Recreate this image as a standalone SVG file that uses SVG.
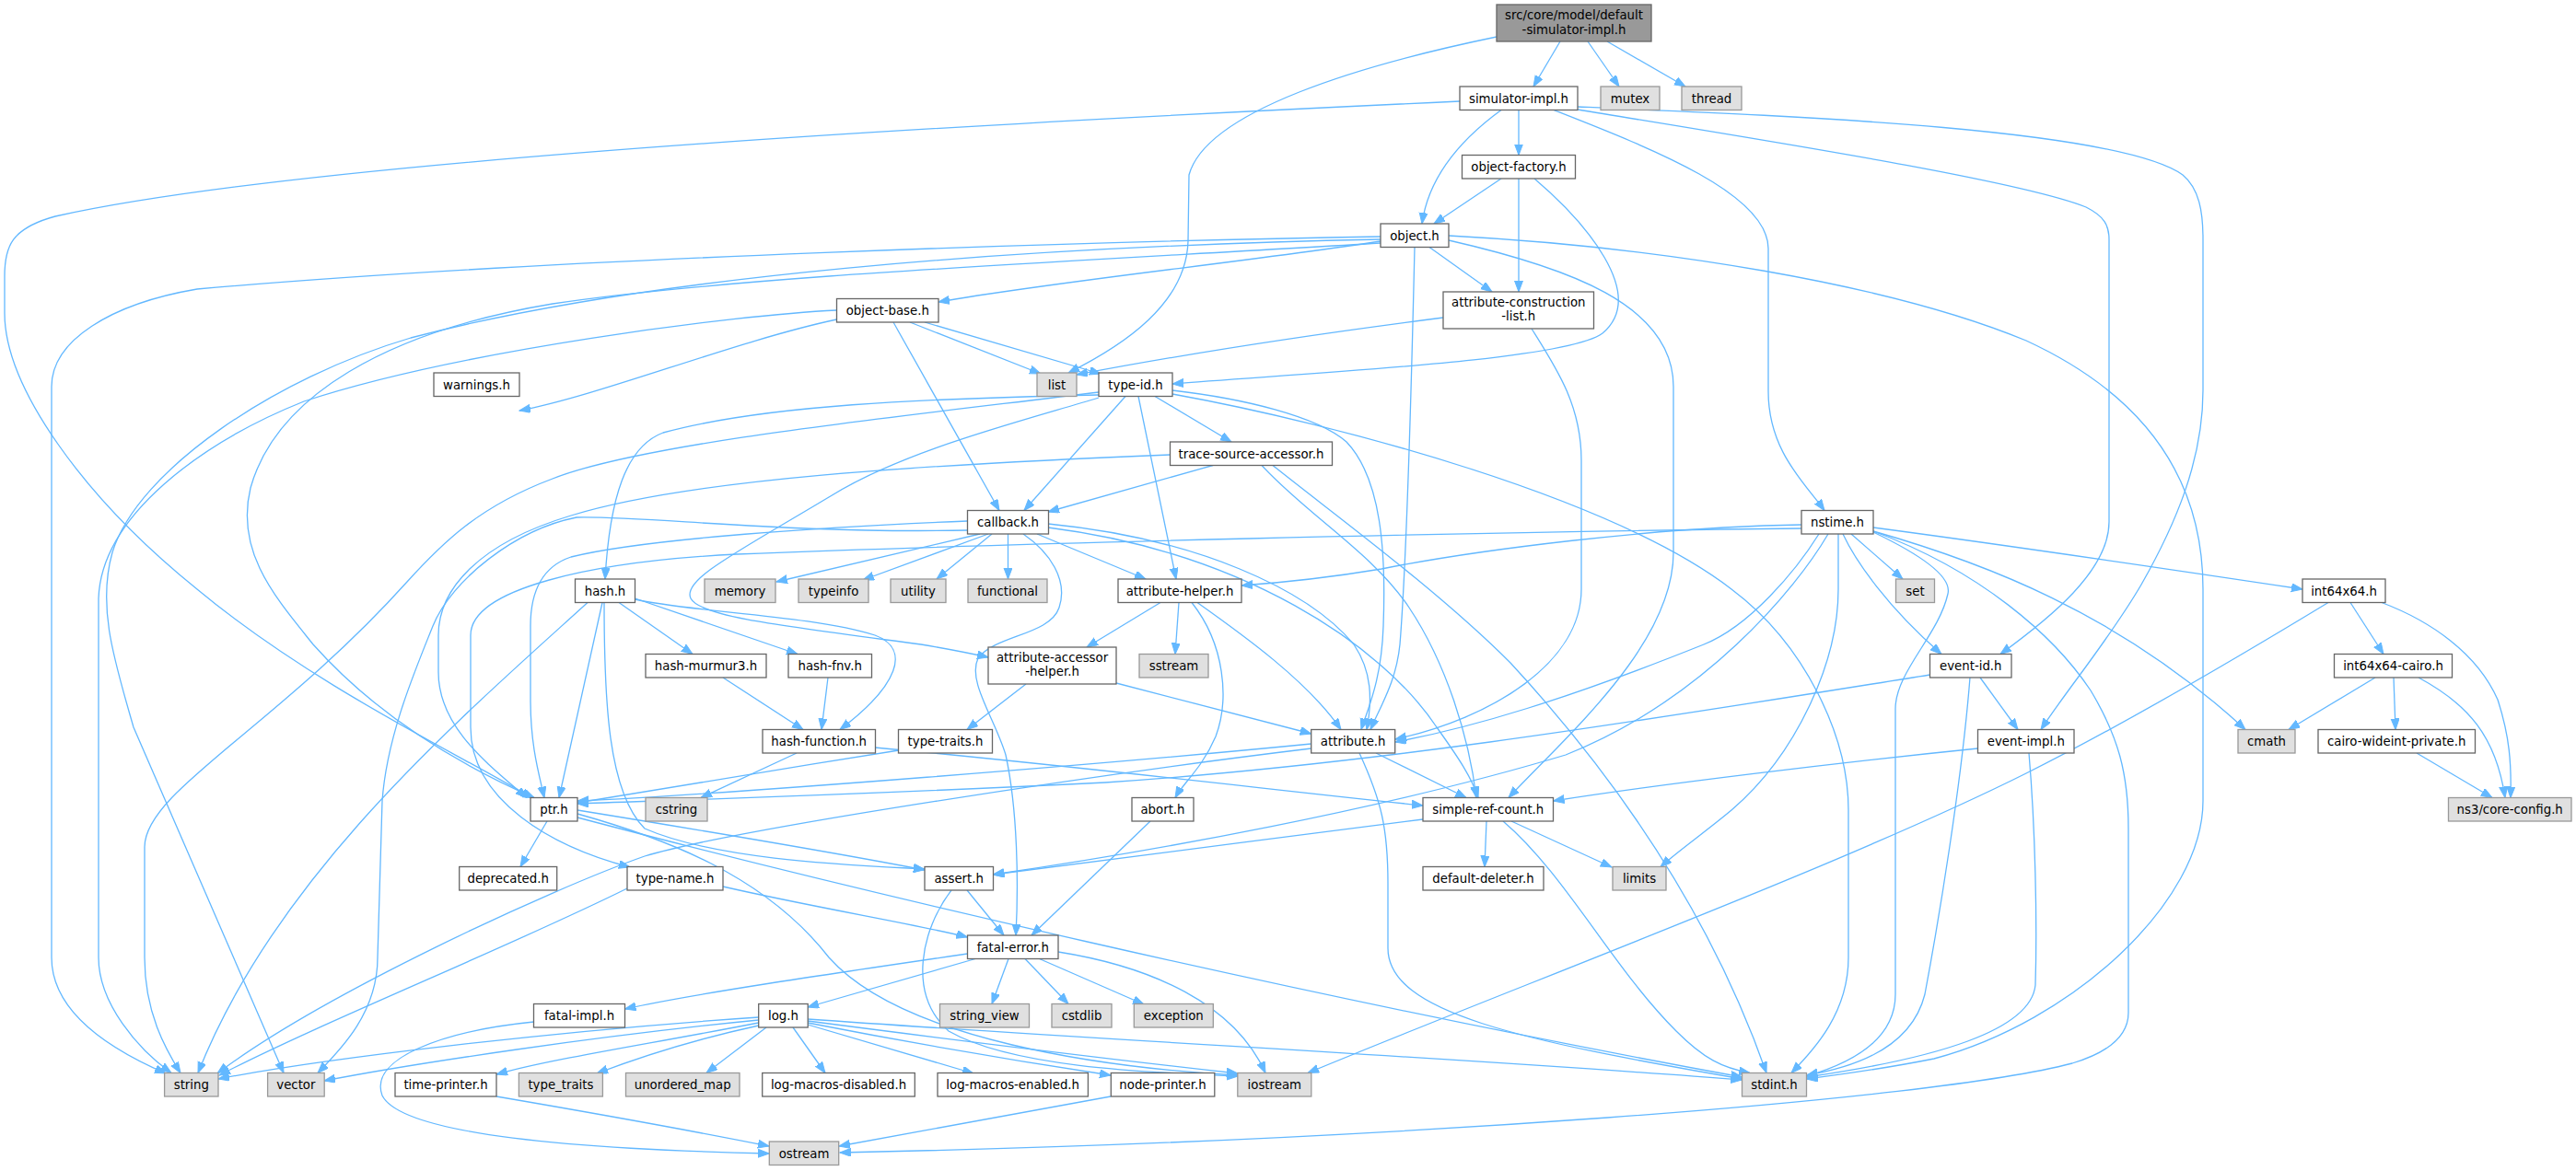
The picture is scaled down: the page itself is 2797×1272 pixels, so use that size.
<svg xmlns="http://www.w3.org/2000/svg" width="2797" height="1272" viewBox="0 0 2797 1272">
<defs>
<style>
.node rect{stroke-width:1.3}
.w rect{fill:#ffffff;stroke:#666666}
.x rect{fill:#e0e0e0;stroke:#999999}
.r rect{fill:#999999;stroke:#666666}
.node text{font-family:"DejaVu Sans","Liberation Sans",sans-serif;font-size:13.3px;fill:#000000;text-anchor:middle}
#edges path{fill:none;stroke:#63b8ff;stroke-width:1.3}
</style>
<marker id="ah" markerUnits="userSpaceOnUse" markerWidth="13" markerHeight="10" refX="12" refY="4.5" orient="auto">
<path d="M0,0 L12,4.5 L0,9 z" fill="#63b8ff" stroke="#63b8ff" stroke-width="1"/>
</marker>
</defs>
<rect x="0" y="0" width="2797" height="1272" fill="#ffffff"/>
<g id="edges" marker-end="url(#ah)">
<path d="M1694,45 L1665,94"/>
<path d="M1724,45 L1758,94"/>
<path d="M1745,45 L1830,94"/>
<path d="M1625,40 C1480,70 1310,120 1291,190 L1290,262 C1288,330 1220,375 1160,405"/>
<path d="M1585,110 C1150,130 350,170 60,235 C12,248 5,268 5,300 L5,340 C5,420 90,540 214,640 C340,745 500,820 578,867"/>
<path d="M1630,119.5 C1595,145 1552,185 1544,243"/>
<path d="M1649,119.5 L1649,168.5"/>
<path d="M1687,119.5 C1790,160 1920,210 1920,270 L1920,425 C1920,490 1960,525 1981,554.5"/>
<path d="M1713,116 C1950,126 2300,140 2370,190 C2388,205 2392,230 2392,260 L2392,424 C2392,500 2362,570 2325,635 C2290,695 2245,748 2216,792.5"/>
<path d="M1713,119 C1900,150 2190,195 2265,225 C2285,235 2290,245 2290,260 L2290,567 C2290,620 2225,672 2172,710.5"/>
<path d="M1630,194 L1557,243"/>
<path d="M1649,194 L1649,317"/>
<path d="M1666,194 C1720,240 1790,320 1740,362 C1700,392 1420,405 1273,417"/>
<path d="M1552,268.5 L1620,317"/>
<path d="M1536,268.5 C1533,400 1528,600 1520,700 C1516,740 1500,765 1488,792.5"/>
<path d="M1573,261 C1700,290 1817,330 1817,420 L1817,600 C1817,700 1700,800 1638,866.5"/>
<path d="M1573,256 C1800,268 2050,308 2200,370 C2330,430 2392,520 2392,640 L2392,870 C2392,980 2250,1110 2100,1150 C2040,1162 2000,1167 1961.5,1172"/>
<path d="M1499,262 C1350,285 1150,305 1019,328"/>
<path d="M1499,257 C1200,262 600,280 214,314 C120,330 56,370 56,420 L56,1040 C56,1100 120,1140 180,1166"/>
<path d="M1499,260 C1100,268 700,300 446,367 C300,410 150,510 122,600 C105,660 125,720 145,790 L308,1165.5"/>
<path d="M1499,264 C1150,285 800,300 600,330 C420,360 300,430 272,530 C255,600 300,650 340,700 C420,790 520,840 580,866.5"/>
<path d="M1663,357 C1690,400 1717,440 1717,500 L1717,640 C1717,720 1620,780 1515,803"/>
<path d="M1567,345 C1450,360 1300,382 1169,407"/>
<path d="M1004,350 L1195,406"/>
<path d="M988,350 L1130,406"/>
<path d="M970,350 L1085,554.5"/>
<path d="M908.5,347 C800,370 650,430 564,446"/>
<path d="M908.5,337 C800,342 500,380 330,436 C220,480 110,560 107,650 L107,1040 C107,1090 150,1140 186,1165.5"/>
<path d="M1254,430.5 L1337,480"/>
<path d="M1222,430.5 L1112,554.5"/>
<path d="M1236,430.5 L1277,629"/>
<path d="M1273,424 C1350,433 1430,452 1462,480 C1500,520 1505,600 1502,680 C1500,740 1485,770 1478,792.5"/>
<path d="M1273,428 C1450,460 1750,540 1880,640 C1960,700 2007,800 2007,880 L2007,1040 C2007,1100 1970,1140 1945,1165.5"/>
<path d="M1193,429 C1000,433 830,440 720,470 C680,485 662,540 657,629"/>
<path d="M1193,426 C1000,450 700,480 600,520 C520,550 480,590 442,632 C300,790 157,860 157,920 L157,1040 C157,1100 180,1140 196,1165.5"/>
<path d="M1193,432 C1100,460 980,490 900,540 C800,600 740,630 750,650 C760,670 850,680 1000,700 C1030,705 1055,710 1073,714"/>
<path d="M1317,505.5 L1138,556"/>
<path d="M1370,505.5 C1420,560 1490,600 1530,660 C1570,720 1595,800 1603,866.5"/>
<path d="M1382,505.5 C1450,560 1560,640 1640,720 C1760,850 1860,1000 1918,1165.5"/>
<path d="M1270.5,494 C1000,505 750,520 620,560 C520,590 476,640 476,690 L476,730 C476,790 530,830 572,866.5"/>
<path d="M1064,580 L843,632"/>
<path d="M1073,580 L937,630"/>
<path d="M1077,580 L1017,629"/>
<path d="M1094.5,580 L1094.5,629"/>
<path d="M1126,580 L1244,629"/>
<path d="M1138,569 C1300,585 1420,640 1470,700 C1490,730 1490,760 1484,792.5"/>
<path d="M1138,573 C1350,600 1500,700 1560,790 C1585,825 1598,845 1605,866.5"/>
<path d="M1111,580 C1140,600 1160,630 1150,660 C1140,690 1080,690 1062,715 C1050,740 1080,780 1092,820 C1105,880 1106,960 1103,1016"/>
<path d="M1050.5,566 C900,572 700,585 620,605 C590,615 576,640 576,680 L576,760 C576,810 585,840 591,866.5"/>
<path d="M1050.5,576 C850,580 700,560 626,562 C560,575 490,630 470,680 C450,730 420,800 415,870 L410,1040 C410,1100 370,1140 345,1165.5"/>
<path d="M2010,580 L2066,629"/>
<path d="M2001,580 C2015,610 2050,660 2108,710.5"/>
<path d="M2034,573 C2200,595 2400,625 2500,640"/>
<path d="M2034,577 C2150,610 2300,665 2438,792.5"/>
<path d="M2034,578 C2080,600 2120,625 2115,645 C2105,690 2058,730 2058,770 L2058,1080 C2058,1130 2010,1155 1961.5,1169"/>
<path d="M2034,577 C2150,620 2230,690 2270,750 C2300,800 2311,840 2311,900 L2311,1100 C2311,1130 2280,1146 2250,1155 C2100,1195 1500,1240 912,1252"/>
<path d="M1975,580 C1950,620 1900,680 1850,700 C1700,760 1600,790 1515,806"/>
<path d="M1985,580 C1950,640 1850,760 1700,820 C1500,880 1250,925 1078,950"/>
<path d="M1996,580 L1996,640 C1996,720 1950,820 1880,880 C1850,905 1825,922 1803,941.5"/>
<path d="M1956,574 C1600,578 1100,590 800,602 C640,610 511,640 511,690 L511,790 C511,870 600,920 684,942"/>
<path d="M1956,570 C1800,572 1600,598 1500,618 C1440,628 1390,633 1348,636"/>
<path d="M2552,654.5 L2588,710.5"/>
<path d="M2586,654.5 C2640,675 2690,710 2712,760 C2725,800 2727,830 2726,866.5"/>
<path d="M2528,654.5 C2420,720 2300,790 2200,840 C2000,940 1650,1070 1420,1165.5"/>
<path d="M2579,736 L2485,792.5"/>
<path d="M2599,736 L2601,792.5"/>
<path d="M2626,736 C2680,765 2710,800 2720,866.5"/>
<path d="M2624,818 L2706,866.5"/>
<path d="M2150,736 L2191,792.5"/>
<path d="M2139,736 C2130,850 2105,1000 2090,1080 C2075,1140 2010,1160 1961.5,1168"/>
<path d="M2095.5,733 C1800,780 1500,830 1200,850 C900,865 700,870 627,873"/>
<path d="M2147.5,813 C2000,828 1800,852 1686.5,870"/>
<path d="M2203,818 C2210,900 2212,1000 2210,1070 C2205,1120 2100,1150 1961.5,1170"/>
<path d="M654,654.5 L607,866.5"/>
<path d="M638,654.5 C500,780 300,950 215,1165.5"/>
<path d="M672,654.5 L752,710.5"/>
<path d="M689.5,650 L866,710.5"/>
<path d="M656,654.5 C656,760 660,860 700,900 C780,935 930,940 1004,944"/>
<path d="M689.5,651 C750,665 880,668 950,690 C990,705 975,745 912,792.5"/>
<path d="M785,736 L872,792.5"/>
<path d="M899,736 L892,792.5"/>
<path d="M1114,743 L1050,792.5"/>
<path d="M1212,742 C1300,765 1380,785 1423.7,797"/>
<path d="M1260,654.5 L1180,703"/>
<path d="M1280,654.5 L1276,710.5"/>
<path d="M1294,654.5 C1330,700 1335,760 1320,800 C1305,835 1285,850 1276,866.5"/>
<path d="M1300,654.5 C1350,690 1420,740 1456,792.5"/>
<path d="M865,818 L761,866.5"/>
<path d="M950,812 C1150,830 1400,860 1545,875"/>
<path d="M976,815 C850,835 700,860 627,872"/>
<path d="M1423.7,808 C1200,830 800,862 627,870"/>
<path d="M1423.7,813 C1200,840 800,900 700,930 C600,965 350,1080 236,1166"/>
<path d="M1494,818 L1592,866.5"/>
<path d="M1476,818 C1500,870 1507,900 1507,960 L1507,1030 C1507,1100 1650,1130 1891.5,1172"/>
<path d="M594,892 L565,941.5"/>
<path d="M627,880 C750,900 900,925 1004,945"/>
<path d="M627,884 C720,910 830,950 900,1040 C980,1130 1200,1160 1344,1168"/>
<path d="M627,888 C900,960 1400,1080 1891.5,1170"/>
<path d="M681,965 C550,1030 350,1110 238,1168"/>
<path d="M785,963 C880,985 1000,1005 1050.5,1018"/>
<path d="M1050,967 L1090,1016"/>
<path d="M1033,967 C1000,1010 985,1080 1030,1120 C1100,1160 1250,1165 1344,1169"/>
<path d="M1249,892 L1120,1016"/>
<path d="M1545,890 C1400,908 1200,935 1078.5,950"/>
<path d="M1614,892 L1612,941.5"/>
<path d="M1641,892 L1750,942"/>
<path d="M1632,892 C1700,950 1750,1050 1820,1120 C1850,1150 1870,1160 1900,1165.5"/>
<path d="M1050.5,1036 C900,1058 750,1080 678.5,1096"/>
<path d="M1059,1041.5 L877,1094"/>
<path d="M1095,1041.5 L1077,1090.5"/>
<path d="M1113,1041.5 L1160,1090.5"/>
<path d="M1128.6,1041.5 L1242,1091"/>
<path d="M1149,1034 C1250,1050 1340,1090 1374,1165.5"/>
<path d="M579.5,1110 C480,1120 400,1150 415,1190 C440,1240 700,1250 835,1253"/>
<path d="M823.7,1105 C600,1120 350,1150 237,1172"/>
<path d="M823.7,1108 C650,1125 450,1155 352,1174"/>
<path d="M823.7,1111 C700,1135 600,1150 539,1167"/>
<path d="M823.7,1114 C750,1130 690,1150 648,1166"/>
<path d="M832,1116 L767,1165.5"/>
<path d="M861,1116 L896,1165.5"/>
<path d="M877,1113 L1057,1166"/>
<path d="M877,1111 C1000,1135 1120,1155 1206,1168"/>
<path d="M877,1109 C1000,1125 1200,1150 1343.8,1166"/>
<path d="M877,1107 C1200,1130 1600,1150 1891.5,1173"/>
<path d="M539,1191 C650,1210 760,1230 835,1245"/>
<path d="M1206,1191 L911,1245"/>
</g>
<g id="n_root" class="node r"><rect x="1625" y="5" width="168" height="40"/><text x="1709" y="21">src/core/model/default</text><text x="1709" y="36.5">-simulator-impl.h</text></g>
<g id="n_simulator_impl" class="node w"><rect x="1585" y="94" width="128" height="25.5"/><text x="1649" y="111.5">simulator-impl.h</text></g>
<g id="n_mutex" class="node x"><rect x="1738" y="94" width="64" height="25.5"/><text x="1770" y="111.5">mutex</text></g>
<g id="n_thread" class="node x"><rect x="1826" y="94" width="65" height="25.5"/><text x="1858.5" y="111.5">thread</text></g>
<g id="n_object_factory" class="node w"><rect x="1587.5" y="168.5" width="123" height="25.5"/><text x="1649" y="186">object-factory.h</text></g>
<g id="n_object" class="node w"><rect x="1499" y="243" width="74" height="25.5"/><text x="1536" y="260.5">object.h</text></g>
<g id="n_attr_constr_list" class="node w"><rect x="1567" y="317" width="163.5" height="40"/><text x="1648.8" y="333">attribute-construction</text><text x="1648.8" y="348">-list.h</text></g>
<g id="n_object_base" class="node w"><rect x="908.5" y="324.5" width="110.5" height="25.5"/><text x="963.8" y="342">object-base.h</text></g>
<g id="n_warnings" class="node w"><rect x="471" y="405" width="93" height="25.5"/><text x="517.5" y="422.5">warnings.h</text></g>
<g id="n_list" class="node x"><rect x="1126" y="405" width="43" height="25.5"/><text x="1147.5" y="422.5">list</text></g>
<g id="n_type_id" class="node w"><rect x="1193" y="405" width="80" height="25.5"/><text x="1233" y="422.5">type-id.h</text></g>
<g id="n_trace_source_accessor" class="node w"><rect x="1270.5" y="480" width="176" height="25.5"/><text x="1358.5" y="497.5">trace-source-accessor.h</text></g>
<g id="n_callback" class="node w"><rect x="1050.5" y="554.5" width="88" height="25.5"/><text x="1094.5" y="572">callback.h</text></g>
<g id="n_nstime" class="node w"><rect x="1956" y="554.5" width="78" height="25.5"/><text x="1995" y="572">nstime.h</text></g>
<g id="n_memory" class="node x"><rect x="765" y="629" width="77" height="25.5"/><text x="803.5" y="646.5">memory</text></g>
<g id="n_typeinfo" class="node x"><rect x="867" y="629" width="76" height="25.5"/><text x="905" y="646.5">typeinfo</text></g>
<g id="n_utility" class="node x"><rect x="967" y="629" width="60" height="25.5"/><text x="997" y="646.5">utility</text></g>
<g id="n_functional" class="node x"><rect x="1051" y="629" width="86" height="25.5"/><text x="1094" y="646.5">functional</text></g>
<g id="n_attribute_helper" class="node w"><rect x="1214" y="629" width="134" height="25.5"/><text x="1281" y="646.5">attribute-helper.h</text></g>
<g id="n_hash" class="node w"><rect x="624.5" y="629" width="65" height="25.5"/><text x="657" y="646.5">hash.h</text></g>
<g id="n_set" class="node x"><rect x="2058.5" y="629" width="42" height="25.5"/><text x="2079.5" y="646.5">set</text></g>
<g id="n_int64x64" class="node w"><rect x="2500" y="629" width="90" height="25.5"/><text x="2545" y="646.5">int64x64.h</text></g>
<g id="n_hash_murmur3" class="node w"><rect x="701" y="710.5" width="131" height="25.5"/><text x="766.5" y="728">hash-murmur3.h</text></g>
<g id="n_hash_fnv" class="node w"><rect x="856" y="710.5" width="90.5" height="25.5"/><text x="901.2" y="728">hash-fnv.h</text></g>
<g id="n_attr_accessor_helper" class="node w"><rect x="1073" y="703" width="139" height="40"/><text x="1142.5" y="719">attribute-accessor</text><text x="1142.5" y="734">-helper.h</text></g>
<g id="n_sstream" class="node x"><rect x="1237" y="710.5" width="75" height="25.5"/><text x="1274.5" y="728">sstream</text></g>
<g id="n_event_id" class="node w"><rect x="2095.5" y="710.5" width="88.5" height="25.5"/><text x="2139.8" y="728">event-id.h</text></g>
<g id="n_int64x64_cairo" class="node w"><rect x="2534.5" y="710.5" width="128" height="25.5"/><text x="2598.5" y="728">int64x64-cairo.h</text></g>
<g id="n_hash_function" class="node w"><rect x="828" y="792.5" width="122.5" height="25.5"/><text x="889.2" y="810">hash-function.h</text></g>
<g id="n_type_traits" class="node w"><rect x="975.5" y="792.5" width="102" height="25.5"/><text x="1026.5" y="810">type-traits.h</text></g>
<g id="n_attribute" class="node w"><rect x="1423.7" y="792.5" width="91" height="25.5"/><text x="1469.2" y="810">attribute.h</text></g>
<g id="n_event_impl" class="node w"><rect x="2147.5" y="792.5" width="104.5" height="25.5"/><text x="2199.8" y="810">event-impl.h</text></g>
<g id="n_cmath" class="node x"><rect x="2430" y="792.5" width="62" height="25.5"/><text x="2461" y="810">cmath</text></g>
<g id="n_cairo_wideint_private" class="node w"><rect x="2517" y="792.5" width="170.5" height="25.5"/><text x="2602.2" y="810">cairo-wideint-private.h</text></g>
<g id="n_ptr" class="node w"><rect x="576" y="866.5" width="51" height="25.5"/><text x="601.5" y="884">ptr.h</text></g>
<g id="n_cstring" class="node x"><rect x="701" y="866.5" width="67" height="25.5"/><text x="734.5" y="884">cstring</text></g>
<g id="n_abort" class="node w"><rect x="1229" y="866.5" width="67" height="25.5"/><text x="1262.5" y="884">abort.h</text></g>
<g id="n_simple_ref_count" class="node w"><rect x="1545" y="866.5" width="141.5" height="25.5"/><text x="1615.8" y="884">simple-ref-count.h</text></g>
<g id="n_core_config" class="node x"><rect x="2658.5" y="866.5" width="133.5" height="25.5"/><text x="2725.2" y="884">ns3/core-config.h</text></g>
<g id="n_deprecated" class="node w"><rect x="498.7" y="941.5" width="106" height="25.5"/><text x="551.7" y="959">deprecated.h</text></g>
<g id="n_type_name" class="node w"><rect x="681" y="941.5" width="104" height="25.5"/><text x="733" y="959">type-name.h</text></g>
<g id="n_assert" class="node w"><rect x="1004" y="941.5" width="74.5" height="25.5"/><text x="1041.2" y="959">assert.h</text></g>
<g id="n_default_deleter" class="node w"><rect x="1545" y="941.5" width="131" height="25.5"/><text x="1610.5" y="959">default-deleter.h</text></g>
<g id="n_limits" class="node x"><rect x="1751" y="941.5" width="58" height="25.5"/><text x="1780" y="959">limits</text></g>
<g id="n_fatal_error" class="node w"><rect x="1050.5" y="1016" width="98.5" height="25.5"/><text x="1099.8" y="1033.5">fatal-error.h</text></g>
<g id="n_fatal_impl" class="node w"><rect x="579.5" y="1090.5" width="99" height="25.5"/><text x="629" y="1108">fatal-impl.h</text></g>
<g id="n_log" class="node w"><rect x="823.7" y="1090.5" width="53.5" height="25.5"/><text x="850.5" y="1108">log.h</text></g>
<g id="n_string_view" class="node x"><rect x="1020.5" y="1090.5" width="97" height="25.5"/><text x="1069" y="1108">string_view</text></g>
<g id="n_cstdlib" class="node x"><rect x="1142" y="1090.5" width="65" height="25.5"/><text x="1174.5" y="1108">cstdlib</text></g>
<g id="n_exception" class="node x"><rect x="1231.3" y="1090.5" width="86" height="25.5"/><text x="1274.3" y="1108">exception</text></g>
<g id="n_string" class="node x"><rect x="178.6" y="1165.5" width="58.4" height="25.5"/><text x="207.8" y="1183">string</text></g>
<g id="n_vector" class="node x"><rect x="290.6" y="1165.5" width="61.6" height="25.5"/><text x="321.4" y="1183">vector</text></g>
<g id="n_time_printer" class="node w"><rect x="429" y="1165.5" width="110" height="25.5"/><text x="484" y="1183">time-printer.h</text></g>
<g id="n_type_traits_std" class="node x"><rect x="563.4" y="1165.5" width="91" height="25.5"/><text x="608.9" y="1183">type_traits</text></g>
<g id="n_unordered_map" class="node x"><rect x="679.5" y="1165.5" width="123.5" height="25.5"/><text x="741.2" y="1183">unordered_map</text></g>
<g id="n_log_macros_disabled" class="node w"><rect x="827.7" y="1165.5" width="165.6" height="25.5"/><text x="910.5" y="1183">log-macros-disabled.h</text></g>
<g id="n_log_macros_enabled" class="node w"><rect x="1018" y="1165.5" width="163.4" height="25.5"/><text x="1099.7" y="1183">log-macros-enabled.h</text></g>
<g id="n_node_printer" class="node w"><rect x="1206.3" y="1165.5" width="112.5" height="25.5"/><text x="1262.5" y="1183">node-printer.h</text></g>
<g id="n_iostream" class="node x"><rect x="1343.8" y="1165.5" width="80" height="25.5"/><text x="1383.8" y="1183">iostream</text></g>
<g id="n_stdint" class="node x"><rect x="1891.5" y="1165.5" width="70" height="25.5"/><text x="1926.5" y="1183">stdint.h</text></g>
<g id="n_ostream" class="node x"><rect x="835.3" y="1240" width="75.4" height="25.5"/><text x="873" y="1257.5">ostream</text></g>
</svg>
